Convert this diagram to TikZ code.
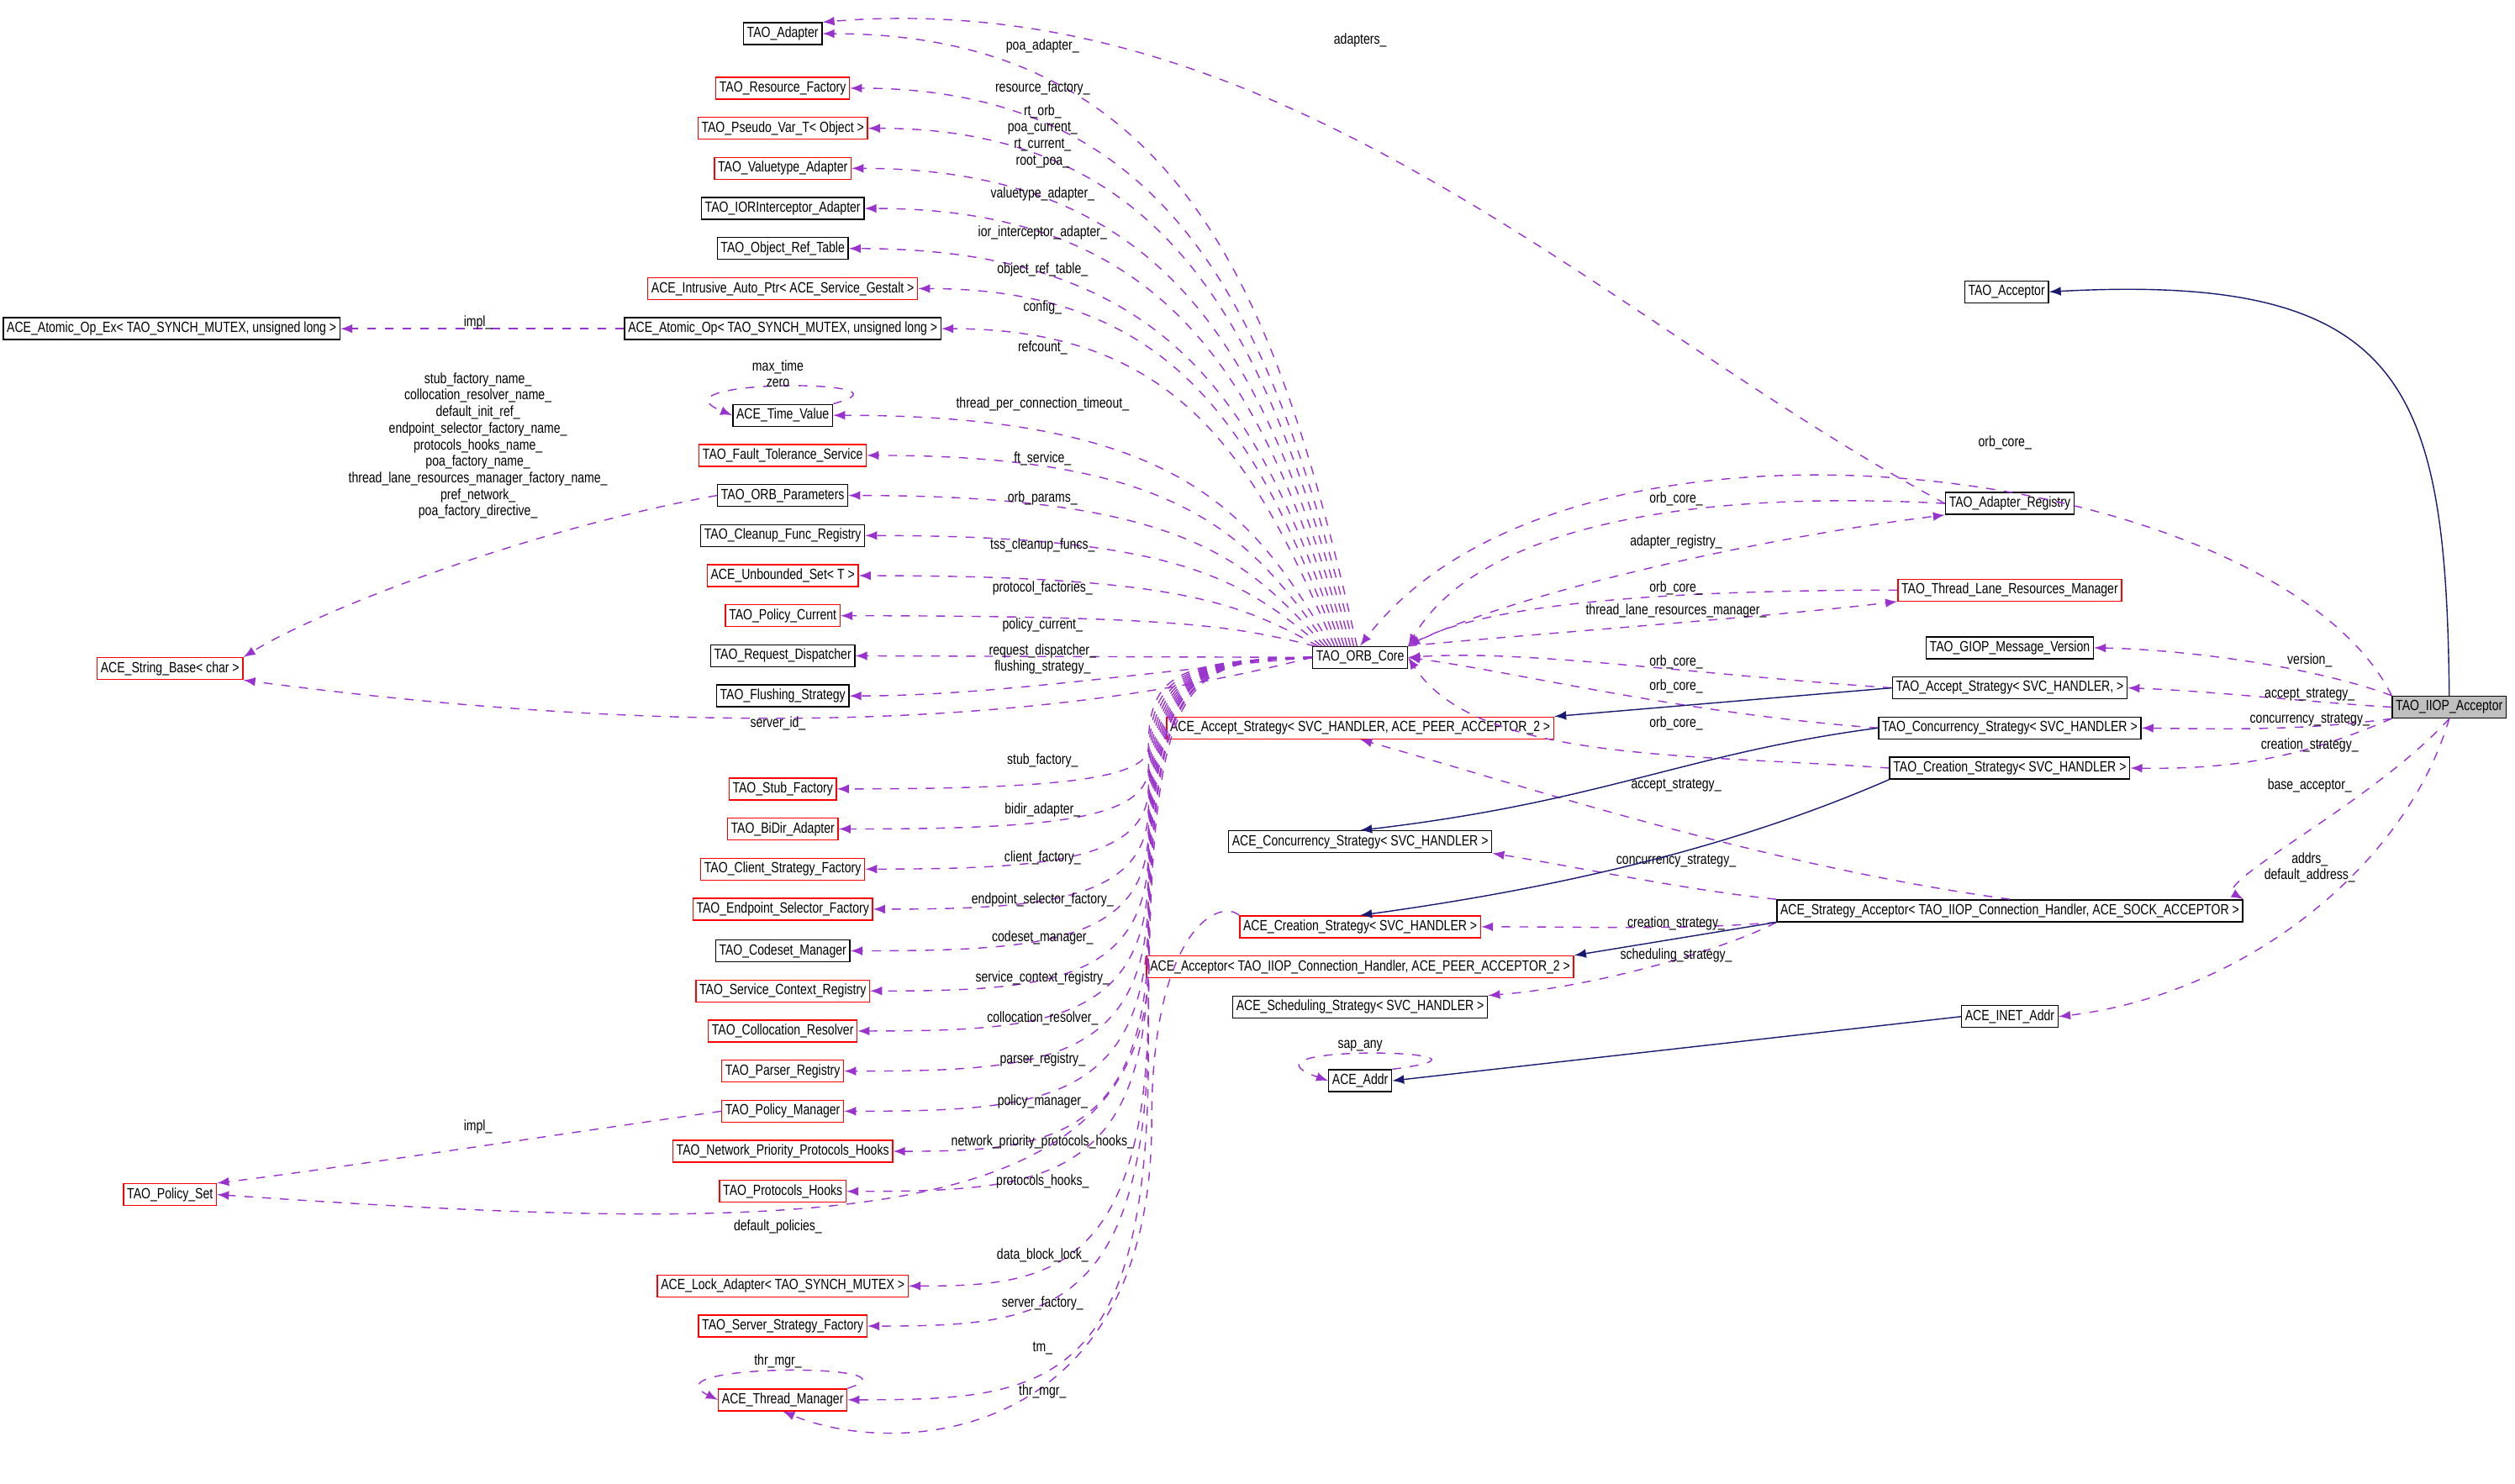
\documentclass[tikz,border=0pt]{standalone}
\usepackage{fontspec}
\setmainfont[FakeStretch=0.8]{Liberation Sans}
\usetikzlibrary{calc}
\definecolor{memcol}{HTML}{9A32CD}
\definecolor{inhcol}{HTML}{191970}
\tikzstyle{cls}=[rectangle, draw=black, fill=white, inner sep=1.2pt, minimum height=2.6mm, font=\fontsize{5}{6}\selectfont]
\tikzstyle{rcls}=[cls, draw=red]
\tikzstyle{member}=[draw=memcol, dashed, ->, >=latex, thin]
\tikzstyle{inherit}=[draw=inhcol, ->, >=latex]
\tikzstyle{annot}=[align=center, font=\fontsize{5}{5.6}\selectfont, inner sep=0pt]
\begin{document}
\begin{tikzpicture}[x=0.1908mm, y=-0.1908mm]
	\useasboundingbox (0,0) rectangle (1568,925);

	% left column
	\node[cls](adapter) at (488,21){TAO\_Adapter};
	\node[rcls](resfac) at (488,55){TAO\_Resource\_Factory};
	\node[rcls](pseudo) at (488,80){TAO\_Pseudo\_Var\_T< Object >};
	\node[rcls](valtype) at (488,105){TAO\_Valuetype\_Adapter};
	\node[cls](iorint) at (488,130){TAO\_IORInterceptor\_Adapter};
	\node[cls](objref) at (488,155){TAO\_Object\_Ref\_Table};
	\node[rcls](intrusive) at (488,180){ACE\_Intrusive\_Auto\_Ptr< ACE\_Service\_Gestalt >};
	\node[cls](atomic) at (488,205){ACE\_Atomic\_Op< TAO\_SYNCH\_MUTEX, unsigned long >};
	\node[cls](atomicex) at (107,205){ACE\_Atomic\_Op\_Ex< TAO\_SYNCH\_MUTEX, unsigned long >};
	\node[cls](timeval) at (488,259){ACE\_Time\_Value};
	\node[rcls](ftserv) at (488,284){TAO\_Fault\_Tolerance\_Service};
	\node[cls](orbparams) at (488,309){TAO\_ORB\_Parameters};
	\node[cls](cleanup) at (488,334){TAO\_Cleanup\_Func\_Registry};
	\node[rcls](unbset) at (488,359){ACE\_Unbounded\_Set< T >};
	\node[rcls](polcur) at (488,384){TAO\_Policy\_Current};
	\node[cls](reqdisp) at (488,409){TAO\_Request\_Dispatcher};
	\node[cls](flush) at (488,434){TAO\_Flushing\_Strategy};
	\node[rcls](strbase) at (106,417){ACE\_String\_Base< char >};
	\node[rcls](stubfac) at (488,492){TAO\_Stub\_Factory};
	\node[rcls](bidir) at (488,517){TAO\_BiDir\_Adapter};
	\node[rcls](clientfac) at (488,542){TAO\_Client\_Strategy\_Factory};
	\node[rcls](endpoint) at (488,567){TAO\_Endpoint\_Selector\_Factory};
	\node[cls](codeset) at (488,593){TAO\_Codeset\_Manager};
	\node[rcls](servctx) at (488,618){TAO\_Service\_Context\_Registry};
	\node[rcls](colloc) at (488,643){TAO\_Collocation\_Resolver};
	\node[rcls](parser) at (488,668){TAO\_Parser\_Registry};
	\node[rcls](polman) at (488,693){TAO\_Policy\_Manager};
	\node[rcls](netprio) at (488,718){TAO\_Network\_Priority\_Protocols\_Hooks};
	\node[rcls](prothooks) at (488,743){TAO\_Protocols\_Hooks};
	\node[rcls](polset) at (106,745){TAO\_Policy\_Set};
	\node[rcls](lockad) at (488,802){ACE\_Lock\_Adapter< TAO\_SYNCH\_MUTEX >};
	\node[rcls](servfac) at (488,827){TAO\_Server\_Strategy\_Factory};
	\node[rcls](thrman) at (488,873){ACE\_Thread\_Manager};

	% middle column
	\node[cls](core) at (848,410){TAO\_ORB\_Core};
	\node[rcls](aaccept) at (848,454){ACE\_Accept\_Strategy< SVC\_HANDLER, ACE\_PEER\_ACCEPTOR\_2 >};
	\node[cls](aconc) at (848,525){ACE\_Concurrency\_Strategy< SVC\_HANDLER >};
	\node[rcls](acreat) at (848,578){ACE\_Creation\_Strategy< SVC\_HANDLER >};
	\node[rcls](aacceptor) at (848,603){ACE\_Acceptor< TAO\_IIOP\_Connection\_Handler, ACE\_PEER\_ACCEPTOR\_2 >};
	\node[cls](asched) at (848,628){ACE\_Scheduling\_Strategy< SVC\_HANDLER >};
	\node[cls](addr) at (848,674){ACE\_Addr};

	% right column
	\node[cls](tacceptor) at (1251,182){TAO\_Acceptor};
	\node[cls](adreg) at (1253,314){TAO\_Adapter\_Registry};
	\node[rcls](tlrm) at (1253,368){TAO\_Thread\_Lane\_Resources\_Manager};
	\node[cls](giop) at (1253,404){TAO\_GIOP\_Message\_Version};
	\node[cls](taccept) at (1253,429){TAO\_Accept\_Strategy< SVC\_HANDLER, >};
	\node[cls](tconc) at (1253,454){TAO\_Concurrency\_Strategy< SVC\_HANDLER >};
	\node[cls](tcreat) at (1253,479){TAO\_Creation\_Strategy< SVC\_HANDLER >};
	\node[cls](stracc) at (1253,568){ACE\_Strategy\_Acceptor< TAO\_IIOP\_Connection\_Handler, ACE\_SOCK\_ACCEPTOR >};
	\node[cls](inet) at (1253,634){ACE\_INET\_Addr};
	\node[cls, fill=black!25](iiop) at (1527,441){TAO\_IIOP\_Acceptor};

	% members of the core, upper part
	\foreach \n/\y/\ly/\lab [count=\i] in {adapter/21/29/poa\_adapter\_, resfac/55/55/resource\_factory\_,
		pseudo/80/85/{rt\_orb\_\\poa\_current\_\\rt\_current\_\\root\_poa\_}, valtype/105/121/valuetype\_adapter\_,
		iorint/130/145/ior\_interceptor\_adapter\_, objref/155/168/object\_ref\_table\_, intrusive/180/192/config\_,
		atomic/205/217/refcount\_, timeval/259/252/thread\_per\_connection\_timeout\_, ftserv/284/286/ft\_service\_,
		orbparams/309/311/orb\_params\_, cleanup/334/340/tss\_cleanup\_funcs\_, unbset/359/367/protocol\_factories\_,
		polcur/384/390/policy\_current\_}
	{
		\draw[member] ({848-2*\i},403) .. controls ({800-2*\i},{\y+0.45*(400-\y)}) and (740,\y) .. (\n.east);
		\node[annot] at (650,\ly) {\lab};
	}
	\draw[member] (core.west) -- (reqdisp.east);
	\node[annot] at (650,406) {request\_dispatcher\_};
	\draw[member] (core.west) .. controls (720,418) and (620,434) .. (flush.east);
	\node[annot] at (650,416) {flushing\_strategy\_};
	\draw[member] (core.west) .. controls (700,440) and (500,470) .. (strbase.south east);
	\node[annot] at (485,451) {server\_id\_};

	% members of the core, lower part
	\foreach \n/\y/\ly/\lab in {stubfac/492/474/stub\_factory\_, bidir/517/505/bidir\_adapter\_,
		clientfac/542/535/client\_factory\_, endpoint/567/561/endpoint\_selector\_factory\_,
		codeset/593/585/codeset\_manager\_, servctx/618/610/service\_context\_registry\_,
		colloc/643/635/collocation\_resolver\_, parser/668/661/parser\_registry\_,
		polman/693/687/policy\_manager\_, netprio/718/712/network\_priority\_protocols\_hooks\_,
		prothooks/743/737/protocols\_hooks\_, lockad/802/783/data\_block\_lock\_,
		servfac/827/813/server\_factory\_, thrman/873/841/tm\_}
	{
		\draw[member] (core.west) .. controls (735,412) and (716,420) .. (716,{0.5*(440+\y)})
			.. controls (716,{\y-5}) and (650,\y) .. (\n.east);
		\node[annot] at (650,\ly) {\lab};
	}
	\draw[member] (core.west) .. controls (735,412) and (716,420) .. (716,600)
		.. controls (716,770) and (500,770) .. (polset.east);
	\node[annot] at (485,765) {default\_policies\_};

	% other left members
	\draw[member] (atomic.west) -- (atomicex.east);
	\node[annot] at (298,201) {impl\_};
	\draw[member] (orbparams.west) .. controls (330,330) and (200,380) .. (strbase.north east);
	\node[annot] at (298,278) {stub\_factory\_name\_\\collocation\_resolver\_name\_\\default\_init\_ref\_\\endpoint\_selector\_factory\_name\_\\protocols\_hooks\_name\_\\poa\_factory\_name\_\\thread\_lane\_resources\_manager\_factory\_name\_\\pref\_network\_\\poa\_factory\_directive\_};
	\draw[member] (polman.west) .. controls (330,710) and (200,730) .. (polset.north east);
	\node[annot] at (298,703) {impl\_};
	\draw[member] (timeval.north east) .. controls (580,236) and (400,236) .. (timeval.west);
	\node[annot] at (485,233) {max\_time\\zero};
	\draw[member] (thrman.north east) .. controls (580,850) and (400,850) .. (thrman.west);
	\node[annot] at (485,849) {thr\_mgr\_};
	\draw[member] (acreat.north west) .. controls (760,560) and (718,580) .. (718,700) .. controls (718,900) and (560,910) .. (thrman.south);
	\node[annot] at (650,868) {thr\_mgr\_};

	% right members of the core
	\draw[member] (iiop.north west) .. controls (1420,290) and (980,230) .. (core.north);
	\node[annot] at (1250,276) {orb\_core\_};
	\draw[member] (adreg.west) .. controls (1050,305) and (920,330) .. (core.north east);
	\node[annot] at (1045,311) {orb\_core\_};
	\draw[member] (core.north east) .. controls (940,370) and (1100,335) .. (adreg.south west);
	\node[annot] at (1045,338) {adapter\_registry\_};
	\draw[member] (adreg.west) .. controls (1000,200) and (800,-10) .. (adapter.north east);
	\node[annot] at (848,25) {adapters\_};
	\draw[member] (tlrm.west) .. controls (1050,368) and (930,375) .. (core.north east);
	\node[annot] at (1045,367) {orb\_core\_};
	\draw[member] (core.north east) .. controls (960,395) and (1100,385) .. (tlrm.south west);
	\node[annot] at (1045,381) {thread\_lane\_resources\_manager\_};
	\draw[member] (taccept.west) .. controls (1050,420) and (950,405) .. (core.east);
	\node[annot] at (1045,413) {orb\_core\_};
	\draw[member] (tconc.west) .. controls (1050,445) and (950,420) .. (core.east);
	\node[annot] at (1045,428) {orb\_core\_};
	\draw[member] (tcreat.west) .. controls (1050,470) and (920,475) .. (core.east);
	\node[annot] at (1045,451) {orb\_core\_};

	% members of the IIOP acceptor
	\draw[member] (iiop.north west) .. controls (1440,415) and (1360,405) .. (giop.east);
	\node[annot] at (1440,412) {version\_};
	\draw[member] (iiop.west) .. controls (1440,438) and (1380,431) .. (taccept.east);
	\node[annot] at (1440,433) {accept\_strategy\_};
	\draw[member] (iiop.south west) .. controls (1440,455) and (1400,455) .. (tconc.east);
	\node[annot] at (1440,449) {concurrency\_strategy\_};
	\draw[member] (iiop.south west) .. controls (1440,470) and (1400,480) .. (tcreat.east);
	\node[annot] at (1440,465) {creation\_strategy\_};
	\draw[member] (iiop.south) .. controls (1480,500) and (1380,550) .. (stracc.north east);
	\node[annot] at (1440,490) {base\_acceptor\_};
	\draw[member] (iiop.south) .. controls (1500,540) and (1400,620) .. (inet.east);
	\node[annot] at (1440,541) {addrs\_\\default\_address\_};

	% members of the strategy acceptor
	\draw[member] (stracc.north) .. controls (1100,540) and (950,490) .. (aaccept.south);
	\node[annot] at (1045,490) {accept\_strategy\_};
	\draw[member] (stracc.north west) .. controls (1050,555) and (980,540) .. (aconc.south east);
	\node[annot] at (1045,537) {concurrency\_strategy\_};
	\draw[member] (stracc.south west) .. controls (1050,580) and (1000,578) .. (acreat.east);
	\node[annot] at (1045,576) {creation\_strategy\_};
	\draw[member] (stracc.south west) .. controls (1080,590) and (1000,615) .. (asched.north east);
	\node[annot] at (1045,596) {scheduling\_strategy\_};
	\draw[member] (addr.north east) .. controls (960,655) and (760,650) .. (addr.west);
	\node[annot] at (848,652) {sap\_any};

	% inheritance
	\draw[inherit] (iiop.north) .. controls (1525,240) and (1500,170) .. (tacceptor.east);
	\draw[inherit] (taccept.west) -- (aaccept.north east);
	\draw[inherit] (tconc.west) .. controls (1050,470) and (1000,500) .. (aconc.north);
	\draw[inherit] (tcreat.south west) .. controls (1100,520) and (1000,550) .. (acreat.north);
	\draw[inherit] (stracc.south west) -- (aacceptor.north east);
	\draw[inherit] (inet.west) -- (addr.east);

\end{tikzpicture}
\end{document}
